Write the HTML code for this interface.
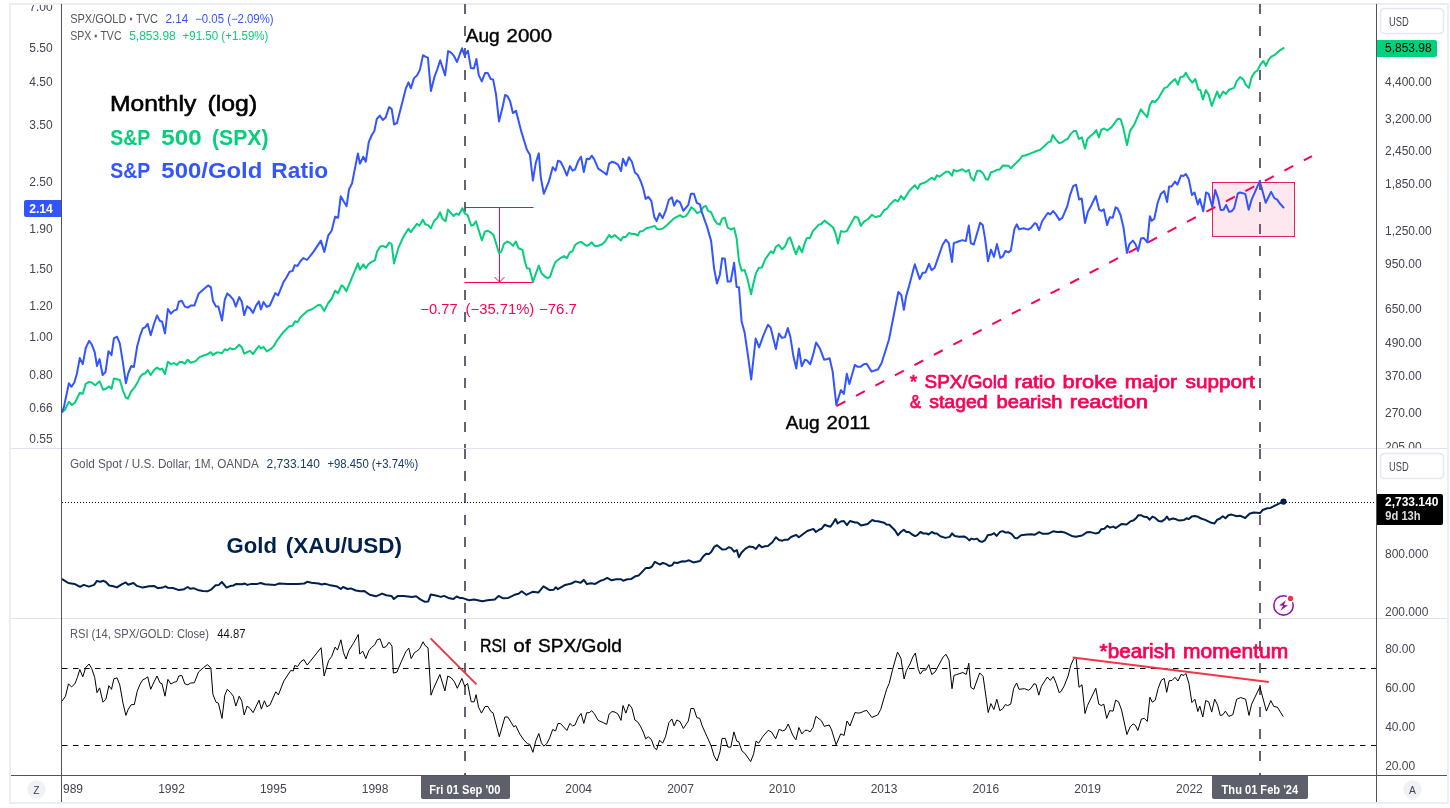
<!DOCTYPE html>
<html lang="en"><head><meta charset="utf-8"><title>SPX/Gold ratio chart</title>
<style>html,body{margin:0;padding:0;background:#fff}body{width:1450px;height:808px;overflow:hidden}svg{display:block}text{font-family:"Liberation Sans", sans-serif}</style>
</head><body>
<svg width="1450" height="808" viewBox="0 0 1450 808">
<defs><clipPath id="cm"><rect x="62" y="5" width="1314" height="443"/></clipPath><clipPath id="cl"><rect x="11" y="5" width="50" height="443"/></clipPath><clipPath id="cr"><rect x="1377" y="5" width="70" height="443"/></clipPath><clipPath id="ct"><rect x="63" y="776" width="1313" height="26"/></clipPath></defs>
<rect x="0" y="0" width="1450" height="808" fill="#fff"/>
<rect x="10" y="4" width="1438" height="799" fill="none" stroke="#eceef5" stroke-width="2"/>
<path d="M465 4V448M465 449V618M465 619V775" stroke="#616472" stroke-width="2" stroke-dasharray="10 12" fill="none"/>
<path d="M1260 4V448M1260 449V618M1260 619V775" stroke="#616472" stroke-width="2" stroke-dasharray="10 12" fill="none"/>
<path d="M11 448.5H1447M11 618.5H1447" stroke="#e0e3eb" stroke-width="1" fill="none"/>
<path d="M62 668.5H1376M62 745.5H1376" stroke="#000" stroke-width="1.2" stroke-dasharray="5.5 5.5" fill="none"/>
<path d="M62 502.5H1376" stroke="#000" stroke-width="1" stroke-dasharray="1 2" fill="none"/>
<rect x="1212.5" y="182.5" width="82" height="54" fill="#e91e63" fill-opacity="0.1" stroke="#e91e63" stroke-width="1"/>
<path d="M836.5 406.1L1312 156.1" stroke="#fa0355" stroke-width="2" stroke-dasharray="10 12" fill="none"/>
<path d="M464.5 207.5H533.5M464.5 282.5H533.5M499.5 207.5V282M494.5 277L499.5 282L504.5 277" stroke="#fa0355" stroke-width="1" fill="none"/>
<g clip-path="url(#cm)" fill="none" stroke-linejoin="round" stroke-linecap="round">
<path d="M62.4 411.6 L65.0 409.6 L68.9 401.7 L71.9 405.0 L74.9 402.7 L79.8 392.8 L82.8 393.8 L85.7 383.9 L89.1 381.9 L91.7 382.5 L95.2 385.2 L99.6 381.3 L103.2 389.8 L105.9 388.8 L108.9 386.4 L111.5 388.8 L113.9 378.5 L117.0 379.3 L119.8 379.9 L123.0 390.8 L125.9 397.7 L127.9 398.7 L130.9 391.8 L134.9 386.8 L137.2 382.9 L140.2 376.9 L142.8 374.0 L145.1 373.6 L147.7 370.0 L150.7 375.0 L154.1 370.0 L157.0 367.6 L160.0 369.6 L162.0 368.6 L165.0 374.0 L167.9 361.7 L170.9 364.1 L173.9 363.1 L176.8 365.0 L179.4 362.1 L182.4 362.1 L184.8 363.7 L187.7 359.7 L190.7 362.7 L195.6 361.1 L199.6 357.1 L203.6 355.5 L207.5 354.2 L210.9 352.2 L212.9 355.1 L216.4 352.6 L219.4 352.6 L222.0 353.2 L224.8 349.2 L227.3 350.2 L229.9 348.2 L232.7 349.2 L235.2 348.6 L239.2 344.7 L241.8 347.2 L244.2 353.6 L247.1 352.2 L250.1 350.8 L253.0 354.1 L255.9 349.9 L258.9 346.1 L260.9 348.5 L263.5 346.9 L266.8 351.5 L270.8 348.9 L273.8 346.1 L277.7 339.6 L283.7 331.7 L289.6 326.1 L292.6 325.7 L295.1 321.2 L297.5 322.2 L300.5 317.2 L307.4 310.9 L311.4 309.5 L318.3 305.0 L320.9 305.3 L324.3 310.9 L328.2 303.0 L331.6 299.0 L335.1 290.7 L338.1 293.1 L341.5 285.5 L343.1 286.1 L346.4 291.1 L355.0 270.3 L357.9 263.4 L359.9 269.7 L363.3 264.4 L365.8 268.3 L368.8 263.8 L371.8 261.8 L374.8 260.4 L377.3 251.1 L380.3 246.5 L383.1 245.9 L386.0 247.5 L389.2 242.6 L391.6 244.0 L394.0 263.4 L398.5 247.5 L403.5 236.6 L408.4 228.7 L410.8 232.1 L416.9 223.8 L419.3 225.7 L422.9 219.8 L425.2 224.2 L428.2 225.1 L430.8 228.3 L434.2 220.8 L437.1 218.2 L440.1 212.3 L442.5 218.8 L445.6 221.2 L448.0 209.5 L451.1 213.4 L453.7 216.0 L456.3 213.4 L458.9 214.8 L462.4 208.2 L465.0 213.7 L467.6 215.1 L471.1 225.5 L473.7 224.7 L475.9 221.2 L478.9 230.7 L481.8 240.3 L484.9 231.6 L487.5 230.7 L490.1 232.1 L493.6 235.1 L499.1 253.3 L501.4 251.5 L504.0 243.7 L507.1 241.5 L510.1 242.9 L513.0 245.8 L515.8 241.5 L518.7 248.4 L522.4 249.8 L525.0 261.7 L526.9 268.2 L529.5 268.6 L532.9 282.1 L535.8 273.6 L538.8 265.6 L541.4 273.0 L544.8 276.5 L547.7 278.1 L550.1 276.9 L552.7 268.6 L555.6 261.7 L559.6 258.7 L564.0 256.1 L566.9 258.1 L569.9 252.2 L572.5 251.2 L575.0 245.2 L577.8 242.9 L581.0 241.9 L583.8 243.9 L586.7 245.8 L589.3 244.5 L591.7 242.3 L594.9 246.2 L598.2 245.8 L602.2 244.3 L605.1 241.5 L609.1 235.0 L611.5 237.5 L614.7 235.0 L618.0 237.9 L621.0 240.5 L623.0 236.9 L625.9 236.9 L628.9 233.0 L631.9 234.0 L634.9 234.0 L637.8 235.5 L639.8 231.6 L642.8 231.0 L646.7 228.0 L649.7 227.4 L655.0 226.0 L657.0 229.0 L659.6 229.4 L663.0 228.4 L666.5 225.4 L674.5 218.1 L680.0 215.1 L682.8 217.1 L685.7 216.1 L688.3 212.8 L691.3 207.2 L693.9 209.2 L697.2 213.2 L700.2 211.8 L703.2 207.2 L705.7 205.8 L708.1 210.8 L711.1 212.2 L714.1 219.1 L717.0 223.5 L719.8 224.6 L722.2 218.6 L724.8 217.6 L727.7 227.5 L730.7 229.5 L734.1 228.1 L736.6 238.4 L739.0 261.2 L741.6 270.7 L744.6 270.1 L747.5 279.0 L751.1 294.3 L753.5 283.0 L756.0 273.1 L758.8 267.7 L761.8 267.5 L765.3 259.2 L770.9 251.3 L773.3 253.3 L775.8 246.9 L778.8 244.8 L782.2 249.3 L785.1 246.3 L788.1 239.0 L790.1 237.4 L793.1 246.3 L796.0 254.3 L799.0 246.3 L802.0 252.3 L805.0 242.4 L806.9 238.0 L809.9 238.0 L812.9 231.1 L818.8 224.6 L821.2 224.0 L824.4 220.6 L829.7 224.6 L833.1 227.5 L835.6 233.5 L838.0 243.4 L841.0 231.1 L844.2 231.9 L846.9 230.9 L855.0 216.6 L858.0 217.6 L860.8 225.9 L864.0 221.6 L868.3 219.0 L871.9 214.7 L875.2 217.0 L880.2 216.0 L884.2 210.1 L887.1 208.7 L889.7 204.8 L895.0 199.8 L898.0 201.4 L900.9 195.9 L903.9 199.5 L909.2 191.0 L914.8 185.2 L917.7 189.0 L920.1 184.3 L925.6 182.3 L931.6 177.7 L934.6 179.7 L936.9 175.3 L939.5 176.7 L945.8 171.8 L948.8 171.8 L952.0 175.7 L953.8 169.8 L956.7 171.4 L962.3 169.2 L965.8 171.8 L968.8 169.8 L970.8 177.3 L973.8 180.7 L977.1 170.8 L980.1 170.8 L983.1 173.4 L986.0 179.3 L988.0 179.7 L991.0 172.2 L994.0 171.4 L996.9 169.8 L999.9 169.4 L1002.9 165.4 L1008.4 165.8 L1010.8 168.2 L1019.7 159.5 L1022.3 155.9 L1025.2 155.5 L1032.6 152.6 L1036.5 151.0 L1039.9 149.9 L1044.3 146.3 L1048.2 142.4 L1050.8 141.4 L1052.8 135.0 L1055.7 139.4 L1059.1 143.0 L1061.7 142.6 L1065.2 140.0 L1067.6 139.0 L1070.6 134.1 L1073.6 131.1 L1076.1 131.1 L1078.9 139.0 L1081.9 137.4 L1085.0 148.5 L1087.4 139.0 L1090.4 136.0 L1093.4 133.7 L1096.3 130.1 L1098.9 137.4 L1101.3 129.7 L1104.3 128.5 L1107.2 130.5 L1111.6 127.1 L1114.6 123.2 L1117.7 118.8 L1120.7 119.2 L1123.1 127.1 L1127.0 145.0 L1130.0 131.1 L1134.4 124.2 L1137.9 116.2 L1140.9 109.3 L1143.9 113.3 L1147.2 117.2 L1149.8 105.3 L1152.2 101.0 L1155.1 102.0 L1158.3 98.4 L1164.3 88.1 L1167.0 87.1 L1171.0 82.6 L1175.0 79.0 L1177.9 84.6 L1180.5 77.0 L1183.5 76.6 L1185.8 72.7 L1189.0 78.6 L1192.4 82.6 L1195.3 79.0 L1198.3 89.5 L1200.3 89.9 L1202.9 99.4 L1205.8 90.1 L1208.6 94.5 L1211.8 105.9 L1217.1 91.5 L1219.7 97.8 L1223.1 91.5 L1226.0 93.9 L1229.1 89.7 L1234.1 87.9 L1236.6 81.4 L1240.2 77.0 L1243.2 79.4 L1245.9 85.0 L1248.9 87.9 L1251.5 77.4 L1254.5 72.5 L1257.4 70.5 L1260.4 64.6 L1263.4 61.0 L1265.9 65.9 L1268.7 59.6 L1271.3 56.6 L1274.3 55.2 L1280.2 50.1 L1283.6 48.1" stroke="#06cf7b" stroke-width="2"/>
<path d="M62.4 411.6 L64.0 406.6 L68.9 383.3 L71.5 386.8 L74.3 382.5 L76.8 374.0 L79.8 358.1 L82.8 364.1 L85.7 348.2 L89.1 340.9 L91.7 344.3 L94.7 352.2 L97.0 366.0 L99.6 359.1 L102.6 375.0 L105.5 372.0 L108.5 351.2 L111.5 355.1 L113.9 338.3 L117.0 336.7 L119.8 343.3 L123.0 363.1 L125.9 383.3 L128.3 373.0 L131.3 366.0 L133.9 367.0 L137.2 346.2 L140.2 335.3 L142.8 328.4 L145.1 327.4 L147.7 323.9 L150.7 335.3 L154.1 323.5 L157.0 315.5 L160.0 321.1 L162.0 321.5 L165.0 333.4 L167.9 309.0 L170.9 313.6 L173.9 310.6 L176.8 309.6 L178.8 301.7 L181.8 300.7 L184.8 306.6 L187.7 307.6 L190.7 305.6 L194.3 305.6 L198.6 293.8 L203.6 289.2 L208.1 285.4 L210.9 287.4 L212.9 300.7 L216.0 306.6 L218.4 306.6 L222.0 320.5 L224.8 299.7 L227.3 293.4 L230.3 296.1 L233.3 299.7 L235.8 306.6 L239.2 297.1 L241.8 301.7 L244.2 315.1 L247.1 306.2 L250.1 308.6 L253.0 312.9 L255.9 305.9 L258.9 301.4 L260.9 309.5 L263.5 302.0 L266.8 306.9 L269.8 305.5 L275.3 293.1 L278.1 295.4 L283.7 281.6 L286.0 278.2 L289.6 271.7 L292.6 270.9 L294.6 265.3 L297.5 265.9 L300.5 261.0 L303.5 258.0 L307.0 260.0 L313.4 251.9 L320.9 240.6 L324.3 251.9 L328.2 235.6 L331.6 230.7 L335.1 216.8 L338.1 217.8 L340.7 196.3 L346.6 206.2 L349.0 189.4 L352.0 183.5 L357.9 153.4 L359.9 163.7 L363.3 156.7 L365.8 161.7 L368.8 141.9 L371.8 135.0 L374.3 131.3 L376.8 119.0 L379.8 115.6 L382.8 120.0 L385.7 117.4 L389.1 107.1 L391.7 109.1 L394.1 124.4 L397.0 123.0 L402.6 101.2 L405.9 88.3 L408.5 82.4 L410.9 88.3 L413.9 78.4 L417.0 75.4 L419.8 70.1 L423.0 55.2 L425.3 56.6 L427.9 57.6 L430.9 90.9 L434.3 77.4 L437.2 69.5 L440.2 60.2 L445.1 75.4 L448.1 51.1 L451.1 52.7 L454.1 56.2 L457.0 62.0 L462.0 48.3 L464.6 55.6 L467.9 50.7 L470.9 68.1 L473.9 68.5 L476.4 59.0 L478.8 75.4 L481.8 81.4 L485.1 72.9 L487.7 72.9 L490.7 79.0 L493.1 79.4 L496.0 94.3 L499.0 121.4 L502.6 107.1 L505.1 94.9 L507.5 96.2 L510.1 101.2 L512.9 113.1 L516.0 110.7 L521.4 131.9 L526.9 149.7 L529.9 154.7 L532.9 180.5 L535.8 162.7 L538.8 153.4 L540.8 177.5 L543.8 193.8 L548.7 181.9 L552.7 167.2 L555.6 170.6 L558.0 160.7 L560.6 161.7 L563.6 167.6 L566.9 175.5 L569.9 166.0 L572.5 170.6 L575.0 169.6 L578.4 160.7 L581.0 156.7 L583.8 172.0 L586.7 158.7 L589.3 159.3 L591.7 155.7 L594.3 159.3 L598.2 168.6 L603.2 172.0 L606.7 174.6 L609.1 163.7 L612.1 161.7 L615.0 162.7 L618.0 164.7 L621.0 171.0 L623.0 158.7 L625.9 165.6 L628.9 157.3 L631.9 161.7 L634.9 172.6 L637.8 175.1 L640.8 181.5 L643.2 188.4 L645.7 198.9 L648.3 196.9 L651.3 200.9 L654.3 217.1 L656.6 221.1 L659.6 213.2 L662.6 218.1 L665.5 211.2 L668.9 199.7 L671.9 197.3 L674.1 205.8 L676.8 200.3 L680.0 202.3 L683.4 210.8 L688.3 204.9 L690.9 193.8 L693.9 193.8 L696.8 202.9 L699.8 204.3 L702.2 213.2 L707.1 227.0 L711.1 240.9 L714.1 268.6 L717.0 283.5 L719.8 275.0 L722.2 258.2 L724.8 258.8 L727.7 281.6 L730.7 281.6 L734.1 262.8 L736.6 286.9 L739.0 287.3 L741.6 321.6 L744.6 332.5 L747.8 354.4 L751.2 379.5 L755.7 338.5 L759.1 347.4 L763.7 334.6 L768.0 324.7 L770.6 327.6 L775.9 349.0 L778.9 333.6 L781.9 337.9 L785.0 337.1 L787.8 328.0 L790.4 337.1 L793.4 356.3 L796.3 368.6 L798.9 348.4 L801.7 366.2 L804.9 359.7 L807.2 360.7 L810.2 364.3 L813.2 354.4 L816.1 342.5 L820.1 348.8 L824.1 359.7 L826.6 359.3 L829.6 358.3 L832.6 371.2 L836.3 404.9 L840.9 390.0 L843.9 394.0 L846.8 373.8 L849.4 384.1 L854.8 364.9 L857.7 366.8 L860.7 366.8 L863.7 364.3 L866.6 363.7 L871.6 371.6 L878.1 369.2 L881.5 363.3 L889.0 339.5 L898.3 292.0 L901.3 295.0 L903.9 309.8 L906.2 295.9 L909.2 285.6 L914.8 264.3 L919.7 279.1 L922.7 272.8 L925.6 272.4 L929.0 263.9 L931.6 270.2 L934.6 267.8 L942.5 245.0 L945.8 239.7 L948.8 243.1 L952.0 261.9 L953.8 243.1 L958.3 241.5 L962.3 240.1 L965.8 241.1 L968.8 225.6 L970.8 243.1 L973.8 244.5 L977.1 233.2 L980.1 222.7 L982.7 224.9 L985.0 238.1 L988.0 261.3 L991.0 249.6 L994.0 256.9 L996.9 244.1 L1000.3 257.9 L1002.9 256.3 L1005.4 251.0 L1008.4 252.4 L1010.8 250.6 L1014.4 229.2 L1016.7 224.3 L1019.1 229.2 L1023.7 228.2 L1028.0 229.6 L1031.0 227.8 L1034.6 223.3 L1036.5 223.9 L1039.1 230.2 L1042.1 221.3 L1047.8 213.0 L1050.4 214.4 L1053.0 211.0 L1055.9 214.4 L1059.3 219.9 L1062.3 217.9 L1067.2 206.4 L1070.2 194.6 L1073.2 186.2 L1076.1 184.7 L1079.1 199.5 L1081.7 198.5 L1085.0 222.9 L1088.0 211.4 L1090.9 206.3 L1095.8 196.0 L1099.2 209.7 L1101.4 210.9 L1103.8 209.3 L1107.1 225.1 L1109.7 217.2 L1112.7 217.8 L1115.6 207.3 L1117.6 208.3 L1120.6 215.2 L1123.6 228.1 L1126.9 252.9 L1129.5 244.0 L1132.9 240.6 L1135.4 244.0 L1138.0 250.9 L1141.0 238.4 L1143.8 238.0 L1147.3 242.4 L1149.9 216.2 L1151.7 220.8 L1154.3 218.8 L1157.6 203.0 L1160.8 194.1 L1164.2 191.1 L1167.1 202.0 L1169.1 186.5 L1171.5 186.5 L1175.0 181.6 L1177.4 184.6 L1181.0 175.6 L1183.4 176.0 L1185.9 174.1 L1188.9 179.6 L1191.9 195.0 L1194.5 192.5 L1197.8 204.4 L1199.8 199.0 L1203.2 211.3 L1206.1 192.5 L1208.7 193.9 L1212.3 206.9 L1215.2 190.1 L1218.0 198.0 L1220.6 209.9 L1223.6 209.7 L1226.1 205.0 L1229.1 211.9 L1231.5 211.3 L1234.1 208.3 L1237.8 193.5 L1240.0 192.5 L1245.3 193.9 L1248.7 209.7 L1251.7 199.4 L1259.8 181.2 L1265.7 202.8 L1271.1 191.9 L1274.5 198.4 L1277.0 199.4 L1280.1 203.8 L1283.5 207.5" stroke="#3355ff" stroke-width="2"/>
</g>
<path d="M62.5 579.3 L68.3 583.0 L74.5 583.9 L80.1 586.8 L83.8 584.9 L89.0 586.6 L94.1 584.9 L96.8 581.0 L100.3 581.8 L103.5 580.8 L105.9 582.0 L109.2 585.5 L113.4 586.3 L116.9 587.4 L122.1 584.1 L125.8 582.4 L127.9 584.7 L133.5 583.0 L137.0 585.9 L142.8 587.6 L149.0 586.3 L154.1 585.9 L157.7 588.2 L162.4 587.6 L165.5 586.3 L168.0 587.8 L172.8 588.0 L179.0 590.1 L184.1 589.2 L187.7 587.0 L190.4 588.8 L193.5 588.2 L197.6 589.9 L202.8 590.9 L207.5 591.3 L211.0 589.7 L215.6 585.3 L218.9 584.9 L221.8 582.0 L226.6 587.6 L230.1 586.1 L233.4 585.5 L236.3 583.9 L242.1 584.3 L244.8 583.5 L247.3 584.9 L251.4 583.9 L256.6 584.1 L260.7 583.0 L264.8 584.3 L275.2 584.9 L279.3 583.5 L287.6 584.1 L297.9 584.1 L304.2 583.5 L307.3 581.8 L311.4 582.8 L318.6 583.5 L321.7 584.5 L324.8 583.7 L329.0 584.9 L337.3 586.6 L340.8 589.0 L343.1 587.0 L347.6 589.0 L350.7 588.4 L355.9 590.5 L360.3 591.3 L364.5 591.1 L369.7 594.8 L375.9 596.3 L382.1 593.6 L386.2 595.2 L391.4 595.9 L393.9 599.0 L397.6 595.9 L403.8 595.9 L412.1 596.9 L416.2 596.3 L420.3 599.4 L424.5 601.7 L428.2 601.5 L430.7 594.6 L434.8 595.2 L441.0 596.9 L444.1 595.9 L448.3 597.9 L453.5 599.0 L456.6 596.5 L459.7 597.9 L462.8 598.1 L469.0 600.2 L474.1 599.6 L482.4 601.2 L487.6 600.2 L494.8 599.4 L498.6 595.9 L503.1 598.3 L508.3 597.9 L514.5 594.8 L518.6 593.8 L521.7 591.3 L526.3 594.8 L533.1 591.7 L538.3 592.6 L543.5 586.3 L549.7 590.1 L553.8 589.7 L555.9 587.2 L557.9 589.2 L565.2 584.9 L571.4 583.5 L575.5 581.4 L580.7 582.8 L583.8 579.9 L586.9 584.1 L591.1 583.2 L595.2 583.9 L600.4 580.8 L603.5 579.9 L607.2 577.9 L611.7 580.3 L615.9 579.3 L621.1 579.3 L623.1 580.8 L627.3 579.3 L631.4 578.9 L635.5 576.2 L638.6 575.6 L645.9 567.9 L649.3 568.0 L652.0 566.6 L654.9 561.8 L659.7 564.5 L662.8 563.0 L665.9 563.9 L669.0 565.9 L672.1 565.3 L674.1 562.4 L677.2 563.0 L682.4 561.2 L685.5 561.4 L689.0 560.3 L693.4 562.4 L700.0 561.0 L703.1 556.6 L706.2 553.7 L708.9 554.1 L711.4 551.7 L714.1 546.9 L717.0 545.2 L722.4 549.6 L725.9 549.2 L728.6 547.3 L731.0 547.9 L734.1 551.7 L736.8 550.0 L738.9 557.2 L741.4 552.7 L745.5 548.6 L749.2 546.5 L752.8 546.9 L755.9 549.0 L759.0 544.8 L761.7 547.3 L764.8 546.3 L767.9 546.1 L772.4 542.3 L775.9 537.2 L779.0 540.1 L782.4 540.7 L784.8 539.7 L787.9 539.7 L791.0 537.0 L796.2 534.9 L798.9 537.2 L807.2 531.0 L813.4 528.9 L815.9 532.0 L819.0 529.7 L821.7 528.7 L824.6 524.8 L827.3 525.8 L830.4 526.8 L833.0 523.1 L835.5 519.0 L837.6 523.5 L840.7 521.5 L843.8 521.0 L846.9 525.2 L850.0 521.0 L855.2 522.5 L857.3 522.5 L861.0 525.4 L867.6 524.1 L872.2 520.0 L874.8 521.0 L877.9 521.2 L884.2 522.7 L886.6 524.6 L889.3 524.8 L894.9 530.3 L898.0 535.1 L901.1 531.8 L903.8 529.7 L906.3 532.0 L909.0 532.0 L912.1 534.5 L915.2 536.1 L917.3 535.1 L920.4 532.0 L923.5 533.5 L926.6 533.5 L928.6 534.5 L931.7 532.0 L934.8 533.5 L936.9 533.5 L940.3 536.3 L945.5 537.9 L949.7 536.9 L952.1 533.4 L954.8 535.9 L959.0 536.7 L964.1 536.5 L966.8 537.9 L969.3 540.4 L971.4 538.6 L973.9 539.4 L977.0 538.6 L979.7 541.2 L982.1 541.9 L984.8 540.4 L987.9 535.0 L991.0 534.8 L994.1 533.2 L996.6 535.9 L1000.3 531.7 L1002.8 531.1 L1005.5 532.6 L1008.6 532.3 L1011.7 534.2 L1014.8 537.9 L1017.3 538.3 L1021.0 535.2 L1027.2 534.4 L1031.4 534.2 L1034.5 534.8 L1039.2 532.1 L1042.8 533.8 L1047.9 533.8 L1053.1 531.3 L1057.3 531.9 L1061.4 531.7 L1065.5 532.8 L1071.7 535.9 L1075.9 536.7 L1082.1 535.5 L1086.8 532.3 L1090.4 532.1 L1095.5 533.4 L1098.6 532.8 L1101.3 529.2 L1104.4 528.8 L1107.3 525.9 L1110.0 527.6 L1113.1 526.6 L1115.8 528.0 L1121.4 524.1 L1126.6 524.5 L1130.3 521.4 L1133.8 520.3 L1136.5 517.7 L1138.4 515.2 L1141.0 515.2 L1144.2 516.8 L1147.3 517.2 L1149.7 519.7 L1152.4 516.6 L1154.9 517.7 L1158.6 521.0 L1161.7 521.4 L1164.8 519.3 L1166.9 516.6 L1169.0 519.7 L1173.1 518.5 L1176.2 519.3 L1179.3 520.6 L1184.1 519.9 L1186.6 518.3 L1188.6 519.1 L1191.7 516.6 L1194.8 516.0 L1197.9 516.8 L1201.1 518.5 L1205.2 519.9 L1211.4 522.8 L1214.5 523.5 L1217.2 519.7 L1219.7 518.7 L1222.8 516.2 L1225.5 518.3 L1228.4 515.2 L1231.6 514.6 L1236.8 516.3 L1240.0 515.7 L1245.2 518.0 L1249.5 513.8 L1253.7 512.5 L1260.0 513.1 L1262.7 510.0 L1267.3 508.3 L1270.5 507.9 L1278.9 503.7 L1283.5 501.6" stroke="#00214f" stroke-width="2" fill="none" stroke-linejoin="round" stroke-linecap="round"/>
<circle cx="1283.5" cy="501.6" r="3.1" fill="#00214f"/>
<path d="M62.0 701.2 L65.5 696.2 L68.5 683.8 L71.5 686.9 L74.9 683.8 L77.4 677.4 L79.8 669.5 L82.8 676.8 L85.7 667.5 L89.1 664.0 L91.7 668.5 L94.7 677.4 L97.0 692.7 L99.6 687.9 L103.0 702.2 L105.9 699.2 L108.9 685.7 L111.5 689.3 L113.9 678.8 L117.0 677.8 L119.8 685.0 L123.0 703.2 L125.9 715.4 L128.3 709.1 L131.3 704.6 L134.3 704.6 L137.2 691.3 L140.2 684.0 L142.8 679.8 L145.1 678.8 L147.7 676.8 L150.7 689.3 L154.1 681.8 L157.0 676.0 L160.0 682.8 L162.0 683.8 L165.0 696.2 L167.9 679.4 L170.9 684.0 L173.9 682.4 L176.8 681.4 L178.8 676.0 L181.8 675.4 L184.8 683.8 L187.7 684.8 L190.7 683.0 L194.3 682.8 L198.6 671.9 L203.6 667.5 L207.5 664.6 L210.9 668.1 L212.9 694.3 L216.0 702.2 L218.4 703.2 L222.0 718.4 L224.8 695.2 L227.3 689.3 L230.3 692.3 L233.3 696.2 L235.8 706.1 L239.2 696.2 L241.8 701.2 L244.2 715.0 L247.1 706.1 L250.1 708.5 L253.1 712.7 L256.0 706.5 L259.0 700.2 L261.4 709.1 L264.4 700.8 L266.9 706.7 L269.9 705.1 L275.8 691.7 L278.4 694.9 L283.8 681.0 L290.7 670.5 L293.3 670.9 L294.7 665.5 L297.6 666.5 L300.9 661.6 L303.9 659.6 L307.2 665.1 L321.1 647.7 L324.1 676.0 L328.6 660.6 L331.6 656.6 L335.1 647.1 L337.5 650.1 L340.9 639.8 L343.5 652.7 L346.0 659.0 L348.8 650.7 L353.4 643.4 L358.3 634.5 L359.7 654.1 L362.7 651.1 L365.8 658.6 L368.8 650.7 L371.6 647.3 L374.8 644.8 L377.1 639.8 L380.1 638.8 L383.1 647.7 L386.0 646.7 L389.0 642.2 L392.0 646.1 L393.4 673.1 L396.9 672.1 L400.9 662.6 L405.8 651.7 L408.8 648.1 L411.2 658.6 L414.4 652.7 L416.7 651.3 L419.7 648.7 L423.1 641.8 L425.2 645.7 L428.0 647.7 L431.0 695.2 L433.6 688.3 L439.9 674.5 L444.9 690.9 L447.8 676.0 L451.4 678.0 L454.4 681.8 L457.3 688.3 L461.9 678.4 L464.7 686.3 L467.6 683.4 L471.2 701.8 L474.2 701.8 L476.1 694.7 L478.5 707.1 L481.5 713.1 L485.0 706.5 L488.0 706.5 L491.0 711.7 L493.0 712.7 L499.3 736.8 L504.9 717.0 L507.8 717.0 L513.8 726.9 L515.7 725.5 L519.7 733.9 L523.7 739.8 L527.6 743.8 L529.9 744.4 L532.9 752.3 L535.8 740.8 L538.8 733.5 L541.4 742.8 L543.8 746.1 L546.7 743.8 L549.7 737.8 L552.7 729.5 L555.6 730.9 L558.0 723.4 L560.6 723.6 L563.6 726.9 L566.9 730.5 L569.9 723.4 L572.5 725.9 L575.0 725.0 L578.4 717.0 L581.0 713.5 L583.8 723.4 L586.7 712.7 L589.3 712.7 L591.7 710.7 L594.3 713.7 L598.2 720.4 L603.2 722.6 L606.7 724.4 L609.1 714.1 L612.1 711.5 L615.0 712.1 L618.0 714.1 L621.0 720.4 L623.0 705.5 L625.9 713.1 L628.9 704.2 L631.9 708.1 L634.9 720.0 L637.8 722.0 L640.8 726.9 L643.2 731.9 L645.7 738.8 L648.3 736.8 L651.3 739.4 L654.3 747.7 L656.6 749.7 L659.6 740.2 L662.6 743.2 L665.5 736.8 L668.9 722.6 L671.9 719.0 L674.1 725.9 L676.8 720.0 L680.0 721.6 L683.4 728.5 L688.3 721.0 L690.9 708.5 L693.9 708.5 L696.8 717.6 L699.8 718.4 L702.2 725.9 L707.1 736.8 L711.1 745.7 L714.1 756.0 L717.0 761.0 L720.0 751.7 L722.0 738.4 L725.3 738.4 L727.9 747.1 L730.9 747.1 L733.9 731.9 L736.8 741.2 L738.8 741.8 L741.8 750.7 L744.8 753.3 L750.7 761.6 L753.7 753.7 L756.0 741.2 L758.6 743.2 L762.9 736.4 L768.2 730.3 L771.4 731.9 L775.7 738.8 L779.1 729.3 L782.7 730.9 L785.2 729.9 L788.2 724.0 L792.6 734.9 L795.9 739.8 L798.9 727.5 L801.9 733.9 L805.0 730.3 L807.4 730.3 L810.0 731.9 L813.0 727.5 L815.9 716.4 L821.3 720.6 L824.3 726.3 L829.2 725.0 L831.6 729.9 L836.1 744.8 L840.7 733.9 L844.1 735.4 L847.0 721.0 L850.0 725.9 L855.0 712.5 L857.9 713.1 L860.9 712.7 L863.9 711.1 L866.8 710.5 L871.8 717.4 L877.7 715.0 L880.7 709.5 L886.6 689.3 L889.2 683.4 L892.6 669.5 L897.5 652.1 L900.9 658.2 L904.1 679.0 L906.4 670.5 L910.0 664.0 L912.8 657.0 L915.3 653.1 L918.3 669.5 L920.3 674.1 L923.3 670.1 L925.8 670.1 L928.8 664.6 L931.8 674.5 L935.1 671.9 L943.1 657.0 L946.0 654.3 L949.0 660.2 L952.0 688.7 L954.0 675.4 L956.9 674.5 L962.9 672.5 L966.2 674.5 L968.8 663.2 L970.8 687.3 L973.8 689.3 L979.7 672.9 L983.1 676.4 L988.2 712.5 L990.9 703.6 L993.9 709.5 L996.8 699.2 L999.8 710.7 L1002.8 708.7 L1005.3 704.6 L1007.7 705.5 L1010.7 704.2 L1013.7 688.3 L1016.6 683.0 L1019.0 689.3 L1024.6 688.7 L1028.5 690.3 L1031.1 688.3 L1033.9 683.8 L1036.0 684.4 L1038.8 695.2 L1041.4 686.3 L1047.3 677.0 L1050.3 680.4 L1053.3 676.4 L1056.2 683.4 L1059.2 692.7 L1061.2 691.3 L1064.2 685.9 L1068.1 676.0 L1070.7 665.5 L1073.5 659.2 L1076.0 657.0 L1079.0 687.3 L1082.0 684.8 L1085.0 713.5 L1087.5 705.5 L1095.8 688.3 L1098.8 704.2 L1101.2 705.5 L1103.8 704.2 L1106.7 718.4 L1109.7 710.7 L1113.1 711.1 L1115.6 700.2 L1118.6 701.8 L1121.6 710.1 L1126.9 734.5 L1130.1 726.9 L1133.1 724.0 L1135.4 725.3 L1137.8 730.5 L1141.4 719.0 L1144.4 718.4 L1147.3 721.4 L1149.9 697.2 L1152.3 702.2 L1155.2 700.2 L1158.2 688.3 L1161.2 680.4 L1164.2 678.4 L1166.7 692.3 L1169.1 680.8 L1172.1 680.4 L1175.0 677.4 L1178.0 681.0 L1181.0 674.5 L1184.0 675.4 L1185.9 673.5 L1188.9 683.4 L1191.9 702.6 L1194.9 699.2 L1197.8 711.5 L1199.8 706.1 L1202.8 717.0 L1205.7 700.6 L1208.7 701.8 L1211.7 712.1 L1214.7 699.2 L1217.6 705.1 L1220.3 715.6 L1222.9 714.7 L1225.4 711.1 L1228.8 716.4 L1232.8 714.7 L1236.7 699.2 L1240.7 697.6 L1245.6 699.2 L1249.0 715.4 L1251.6 704.2 L1259.9 686.9 L1266.4 711.1 L1270.8 700.6 L1273.8 706.5 L1277.3 707.1 L1283.3 716.6" stroke="#000" stroke-width="1" fill="none" stroke-linejoin="round"/>
<path d="M430.6 638.4L476.5 684.4M1072.7 657.6L1268.8 682" stroke="#f23645" stroke-width="2" fill="none"/>
<path d="M61.5 4V802M1376.5 4V802M11 775.5H1447" stroke="#50535f" stroke-width="1" fill="none"/>
<path d="M465.5 773V776M1260.5 773V776" stroke="#50535f" stroke-width="1" fill="none"/>
<g clip-path="url(#cl)">
<text x="52.7" y="10.8" font-size="12" fill="#434651" text-anchor="end">7.00</text>
<text x="52.7" y="51.9" font-size="12" fill="#434651" text-anchor="end">5.50</text>
<text x="52.7" y="86" font-size="12" fill="#434651" text-anchor="end">4.50</text>
<text x="52.7" y="129" font-size="12" fill="#434651" text-anchor="end">3.50</text>
<text x="52.7" y="186" font-size="12" fill="#434651" text-anchor="end">2.50</text>
<text x="52.7" y="232.5" font-size="12" fill="#434651" text-anchor="end">1.90</text>
<text x="52.7" y="273" font-size="12" fill="#434651" text-anchor="end">1.50</text>
<text x="52.7" y="310" font-size="12" fill="#434651" text-anchor="end">1.20</text>
<text x="52.7" y="341.3" font-size="12" fill="#434651" text-anchor="end">1.00</text>
<text x="52.7" y="378.9" font-size="12" fill="#434651" text-anchor="end">0.80</text>
<text x="52.7" y="412" font-size="12" fill="#434651" text-anchor="end">0.66</text>
<text x="52.7" y="442.6" font-size="12" fill="#434651" text-anchor="end">0.55</text>
</g>
<path d="M26 200H61V217H26a2 2 0 0 1-2-2V202a2 2 0 0 1 2-2z" fill="#3355ff"/>
<g clip-path="url(#cr)">
<text x="1385" y="86" font-size="12" fill="#434651">4,400.00</text>
<text x="1385" y="122.5" font-size="12" fill="#434651">3,200.00</text>
<text x="1385" y="154.7" font-size="12" fill="#434651">2,450.00</text>
<text x="1385" y="188" font-size="12" fill="#434651">1,850.00</text>
<text x="1385" y="234.8" font-size="12" fill="#434651">1,250.00</text>
<text x="1385" y="267.8" font-size="12" fill="#434651">950.00</text>
<text x="1385" y="312.8" font-size="12" fill="#434651">650.00</text>
<text x="1385" y="346.6" font-size="12" fill="#434651">490.00</text>
<text x="1385" y="379.7" font-size="12" fill="#434651">370.00</text>
<text x="1385" y="417.3" font-size="12" fill="#434651">270.00</text>
<text x="1385" y="450.5" font-size="12" fill="#434651">205.00</text>
</g>
<rect x="1380.5" y="8.5" width="63" height="25" rx="4" fill="#fff" stroke="#e6e8f0" stroke-width="1.6"/>
<rect x="1380.5" y="453.5" width="63" height="25" rx="4" fill="#fff" stroke="#e6e8f0" stroke-width="1.6"/>
<path d="M1377 40H1435a2 2 0 0 1 2 2V55a2 2 0 0 1-2 2H1377z" fill="#00d17d"/>
<text x="1385" y="51.8" font-size="12" fill="#000">5,853.98</text>
<path d="M1377 494H1441a2 2 0 0 1 2 2V523a2 2 0 0 1-2 2H1377z" fill="#000"/>
<text x="1385" y="505.8" font-size="12" fill="#fff" font-weight="bold">2,733.140</text>
<text x="1385.3" y="520.3" font-size="12" fill="#dcdcdc" font-weight="bold" textLength="35.3" lengthAdjust="spacingAndGlyphs">9d 13h</text>
<text x="1385" y="557.7" font-size="12" fill="#434651">800.000</text>
<text x="1385" y="616" font-size="12" fill="#434651">200.000</text>
<text x="1385.2" y="653" font-size="12" fill="#434651">80.00</text>
<text x="1385.2" y="692" font-size="12" fill="#434651">60.00</text>
<text x="1385.2" y="731.2" font-size="12" fill="#434651">40.00</text>
<text x="1385.2" y="769.6" font-size="12" fill="#434651">20.00</text>
<circle cx="1283.5" cy="605.4" r="9.7" fill="none" stroke="#9118ab" stroke-width="1.6"/>
<path d="M1285.8 600.2L1279.1 605.4L1283.1 605.7L1280.3 610.8L1288 605.2L1284 604.9Z" fill="#9118ab"/>
<circle cx="1290.5" cy="598.5" r="4.3" fill="#fff"/><circle cx="1290.5" cy="598.5" r="2.7" fill="#f23645"/>
<g clip-path="url(#ct)">
<text x="69.7" y="793" font-size="12" fill="#434651" text-anchor="middle">1989</text>
<text x="171.5" y="793" font-size="12" fill="#434651" text-anchor="middle">1992</text>
<text x="273.3" y="793" font-size="12" fill="#434651" text-anchor="middle">1995</text>
<text x="375.1" y="793" font-size="12" fill="#434651" text-anchor="middle">1998</text>
<text x="476.9" y="793" font-size="12" fill="#434651" text-anchor="middle">2001</text>
<text x="578.7" y="793" font-size="12" fill="#434651" text-anchor="middle">2004</text>
<text x="680.5" y="793" font-size="12" fill="#434651" text-anchor="middle">2007</text>
<text x="782.2" y="793" font-size="12" fill="#434651" text-anchor="middle">2010</text>
<text x="884.0" y="793" font-size="12" fill="#434651" text-anchor="middle">2013</text>
<text x="985.8" y="793" font-size="12" fill="#434651" text-anchor="middle">2016</text>
<text x="1087.6" y="793" font-size="12" fill="#434651" text-anchor="middle">2019</text>
<text x="1189.4" y="793" font-size="12" fill="#434651" text-anchor="middle">2022</text>
<text x="1291.2" y="793" font-size="12" fill="#434651" text-anchor="middle">2025</text>
</g>
<path d="M421 776H510V797a2 2 0 0 1-2 2H423a2 2 0 0 1-2-2z" fill="#5d606b"/>
<path d="M1212 776H1308V797a2 2 0 0 1-2 2H1214a2 2 0 0 1-2-2z" fill="#5d606b"/>
<circle cx="36.5" cy="789.5" r="9.2" fill="#f0f1f6"/>
<text x="36.5" y="794" font-size="10.3" fill="#434651" text-anchor="middle">Z</text>
<circle cx="1412.5" cy="789.5" r="9.2" fill="#f0f1f6"/>
<text x="1412.5" y="794" font-size="10.3" fill="#434651" text-anchor="middle">A</text>
<text x="70.19" y="22.7" font-size="12" fill="#555862" textLength="87.71" lengthAdjust="spacingAndGlyphs">SPX/GOLD <tspan font-weight="700" stroke="#555862" stroke-width="0.6">·</tspan> TVC</text>
<text x="165.59" y="22.7" font-size="12" fill="#3355ff" textLength="22.73" lengthAdjust="spacingAndGlyphs">2.14</text>
<text x="195.19" y="22.7" font-size="12" fill="#3355ff" textLength="78.42" lengthAdjust="spacingAndGlyphs">−0.05 (−2.09%)</text>
<text x="70.19" y="39.6" font-size="12" fill="#555862" textLength="51.32" lengthAdjust="spacingAndGlyphs">SPX <tspan font-weight="700" stroke="#555862" stroke-width="0.6">·</tspan> TVC</text>
<text x="129.19" y="39.6" font-size="12" fill="#06cf7b" textLength="46.52" lengthAdjust="spacingAndGlyphs">5,853.98</text>
<text x="182.58" y="39.6" font-size="12" fill="#06cf7b" textLength="85.84" lengthAdjust="spacingAndGlyphs">+91.50 (+1.59%)</text>
<text x="70.0" y="468.2" font-size="12" fill="#555862" textLength="188.8" lengthAdjust="spacingAndGlyphs">Gold Spot / U.S. Dollar, 1M, OANDA</text>
<text x="266.58" y="468.2" font-size="12" fill="#173b6c" textLength="53.31" lengthAdjust="spacingAndGlyphs">2,733.140</text>
<text x="327.39" y="468.2" font-size="12" fill="#173b6c" textLength="90.81" lengthAdjust="spacingAndGlyphs">+98.450 (+3.74%)</text>
<text x="70.0" y="638.2" font-size="12" fill="#555862" textLength="139.0" lengthAdjust="spacingAndGlyphs">RSI (14, SPX/GOLD: Close)</text>
<text x="217.17" y="638.2" font-size="12" fill="#131722" textLength="28.33" lengthAdjust="spacingAndGlyphs">44.87</text>
<text y="110.7" font-size="22.5" fill="#000" stroke="#000" stroke-width="0.6"><tspan x="110.09" textLength="86.28" lengthAdjust="spacingAndGlyphs">Monthly</tspan> <tspan x="207.49" textLength="49.69" lengthAdjust="spacingAndGlyphs">(log)</tspan></text>
<text y="144.6" font-size="22.5" fill="#06cf7b" font-weight="700"><tspan x="110.2" textLength="39.63" lengthAdjust="spacingAndGlyphs">S&amp;P</tspan> <tspan x="161.38" textLength="40.17" lengthAdjust="spacingAndGlyphs">500</tspan> <tspan x="212.06" textLength="56.4" lengthAdjust="spacingAndGlyphs">(SPX)</tspan></text>
<text y="178.2" font-size="22.5" fill="#3355ff" font-weight="700"><tspan x="110.2" textLength="39.63" lengthAdjust="spacingAndGlyphs">S&amp;P</tspan> <tspan x="161.39" textLength="101.01" lengthAdjust="spacingAndGlyphs">500/Gold</tspan> <tspan x="271.39" textLength="56.78" lengthAdjust="spacingAndGlyphs">Ratio</tspan></text>
<text y="41.7" font-size="19" fill="#000" stroke="#000" stroke-width="0.4"><tspan x="465.78" textLength="33.98" lengthAdjust="spacingAndGlyphs">Aug</tspan> <tspan x="506.6" textLength="45.41" lengthAdjust="spacingAndGlyphs">2000</tspan></text>
<text y="428.8" font-size="19" fill="#000" stroke="#000" stroke-width="0.4"><tspan x="785.78" textLength="33.98" lengthAdjust="spacingAndGlyphs">Aug</tspan> <tspan x="826.59" textLength="43.82" lengthAdjust="spacingAndGlyphs">2011</tspan></text>
<text y="314.0" font-size="14" fill="#fa0355"><tspan x="420.36" textLength="37.27" lengthAdjust="spacingAndGlyphs">−0.77</tspan> <tspan x="465.59" textLength="68.7" lengthAdjust="spacingAndGlyphs">(−35.71%)</tspan> <tspan x="538.98" textLength="38.02" lengthAdjust="spacingAndGlyphs">−76.7</tspan></text>
<text y="387.9" font-size="19" fill="#fa0355" stroke="#fa0355" stroke-width="0.75"><tspan x="909.8" textLength="7.46" lengthAdjust="spacingAndGlyphs">*</tspan> <tspan x="924.6" textLength="82.96" lengthAdjust="spacingAndGlyphs">SPX/Gold</tspan> <tspan x="1014.48" textLength="40.57" lengthAdjust="spacingAndGlyphs">ratio</tspan> <tspan x="1062.64" textLength="54.6" lengthAdjust="spacingAndGlyphs">broke</tspan> <tspan x="1124.88" textLength="52.17" lengthAdjust="spacingAndGlyphs">major</tspan> <tspan x="1185.59" textLength="69.22" lengthAdjust="spacingAndGlyphs">support</tspan></text>
<text y="407.7" font-size="19" fill="#fa0355" stroke="#fa0355" stroke-width="0.75"><tspan x="910.0" textLength="10.93" lengthAdjust="spacingAndGlyphs">&amp;</tspan> <tspan x="929.2" textLength="58.39" lengthAdjust="spacingAndGlyphs">staged</tspan> <tspan x="996.53" textLength="66.07" lengthAdjust="spacingAndGlyphs">bearish</tspan> <tspan x="1069.83" textLength="78.02" lengthAdjust="spacingAndGlyphs">reaction</tspan></text>
<text y="552.9" font-size="21.5" fill="#00214f" font-weight="700"><tspan x="226.58" textLength="50.4" lengthAdjust="spacingAndGlyphs">Gold</tspan> <tspan x="285.76" textLength="116.22" lengthAdjust="spacingAndGlyphs">(XAU/USD)</tspan></text>
<text y="651.5" font-size="18.2" fill="#000" stroke="#000" stroke-width="0.4"><tspan x="479.91" textLength="26.63" lengthAdjust="spacingAndGlyphs">RSI</tspan> <tspan x="513.37" textLength="17.37" lengthAdjust="spacingAndGlyphs">of</tspan> <tspan x="538.0" textLength="83.96" lengthAdjust="spacingAndGlyphs">SPX/Gold</tspan></text>
<text y="657.8" font-size="19.5" fill="#fa0355" stroke="#fa0355" stroke-width="0.75"><tspan x="1099.59" textLength="75.91" lengthAdjust="spacingAndGlyphs">*bearish</tspan> <tspan x="1183.11" textLength="105.04" lengthAdjust="spacingAndGlyphs">momentum</tspan></text>
<text x="29.2" y="213.1" font-size="12" fill="#fff" font-weight="700" textLength="23.69" lengthAdjust="spacingAndGlyphs">2.14</text>
<text x="429.19" y="793.8" font-size="12" fill="#fff" font-weight="700" textLength="71.32" lengthAdjust="spacingAndGlyphs">Fri 01 Sep '00</text>
<text x="1221.6" y="793.8" font-size="12" fill="#fff" font-weight="700" textLength="76.51" lengthAdjust="spacingAndGlyphs">Thu 01 Feb '24</text>
<text x="1389.0" y="25.6" font-size="12" fill="#434651" textLength="19.74" lengthAdjust="spacingAndGlyphs">USD</text>
<text x="1389.0" y="470.6" font-size="12" fill="#434651" textLength="19.74" lengthAdjust="spacingAndGlyphs">USD</text>
</svg></body></html>
